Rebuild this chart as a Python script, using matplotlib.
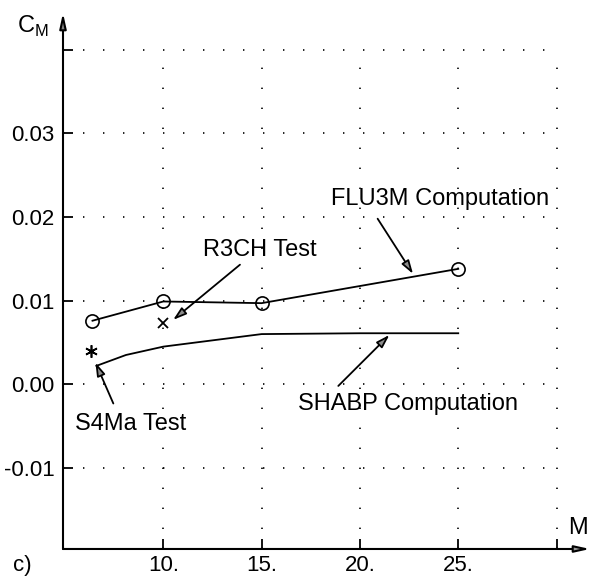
import matplotlib
matplotlib.use("Agg")
import matplotlib.pyplot as plt

plt.rcParams['font.family'] = ['Liberation Sans', 'DejaVu Sans']
plt.rcParams['lines.scale_dashes'] = False
plt.rcParams['mathtext.fontset'] = 'custom'
plt.rcParams['mathtext.rm'] = 'Liberation Sans'

# Data
flu3m_M = [6.4, 10.0, 15.0, 25.0]
flu3m_CM = [0.0076, 0.0099, 0.0097, 0.0138]
shabp_M = [6.6, 8.1, 10.0, 15.0, 20.0, 25.0]
shabp_CM = [0.0022, 0.0035, 0.0045, 0.0060, 0.0061, 0.0061]
r3ch_M = [10.0]
r3ch_CM = [0.0073]
s4ma_M = [6.3]
s4ma_CM = [0.0040]

x_ticks = [10, 15, 20, 25, 30]
x_labels = ["10.", "15.", "20.", "25.", ""]
y_ticks = [-0.01, 0.00, 0.01, 0.02, 0.03, 0.04]
y_labels = ["-0.01", "0.00", "0.01", "0.02", "0.03", ""]

xmin, xmax = 4.9, 31.7
ymin, ymax = -0.0197, 0.0444
grid_xmax, grid_ymax = 30, 0.04

fig = plt.figure(figsize=(5.91, 5.78), dpi=100)
ax = fig.add_axes([0.1066, 0.0502, 0.8917, 0.9273])
ax.set_xlim(xmin, xmax)
ax.set_ylim(ymin, ymax)
for s in ax.spines.values():
    s.set_visible(False)

# dotted grid
dots = dict(color='black', linewidth=1.2, linestyle=(0, (1.0, 13.4)))
ax.hlines(y_ticks, xmin, grid_xmax, **dots)
ax.vlines(x_ticks, ymin, grid_ymax, **dots)

# axes with arrows
ax.annotate('', xy=(0, 1.0), xytext=(0, 0), xycoords='axes fraction',
            arrowprops=dict(arrowstyle='-|>,head_length=0.9,head_width=0.2',
                            ec='black', lw=1.5, fc='0.5', shrinkA=0, shrinkB=0))
ax.annotate('', xy=(1.0, 0), xytext=(0, 0), xycoords='axes fraction',
            arrowprops=dict(arrowstyle='-|>,head_length=0.9,head_width=0.2',
                            ec='black', lw=1.5, fc='0.6', shrinkA=0, shrinkB=0))

ax.set_xticks(x_ticks)
ax.set_xticklabels(x_labels)
ax.set_yticks(y_ticks)
ax.set_yticklabels(y_labels)
ax.tick_params(direction='in', length=7, width=1.3, labelsize=16)
ax.tick_params(axis='y', pad=6)
ax.tick_params(axis='x', pad=4)

# data
ax.plot(flu3m_M, flu3m_CM, color='black', lw=1.3, marker='o', ms=9.5,
        mfc='none', mec='black', mew=1.2)
ax.plot(shabp_M, shabp_CM, color='black', lw=1.3)
ax.plot(r3ch_M, r3ch_CM, linestyle='none', marker='x', ms=7, mec='black', mew=1.3)
ax.plot(s4ma_M, s4ma_CM, linestyle='none', marker=(6, 2, 0), ms=9, mec='black', mew=1.2)

# annotations
ap = dict(arrowstyle='-|>,head_length=0.8,head_width=0.25', ec='black', fc='0.55',
          lw=1.3, shrinkA=0, shrinkB=0)
ax.annotate('', xy=(22.7, 0.0132), xytext=(20.9, 0.0198), arrowprops=ap)
ax.annotate('', xy=(10.5, 0.0077), xytext=(13.9, 0.0143), arrowprops=ap)
ax.annotate('', xy=(6.55, 0.0026), xytext=(7.46, -0.0023), arrowprops=ap)
ax.annotate('', xy=(21.5, 0.0059), xytext=(18.9, -0.0002), arrowprops=ap)

tk = dict(fontsize=17, ha='left', va='center')
ax.text(18.55, 0.0221, 'FLU3M Computation', **tk)
ax.text(12.0, 0.0161, 'R3CH Test', **tk)
ax.text(5.53, -0.0047, 'S4Ma Test', **tk)
ax.text(16.85, -0.0024, 'SHABP Computation', **tk)

fig.text(17/591, 1 - 26/578, r'C$_\mathregular{M}$', fontsize=17, ha='left', va='center')
fig.text(568/591, 1 - 528/578, 'M', fontsize=17, ha='left', va='center')
fig.text(13/591, 1 - 565/578, 'c)', fontsize=16, ha='left', va='center')

fig.savefig('out.png', dpi=100)
